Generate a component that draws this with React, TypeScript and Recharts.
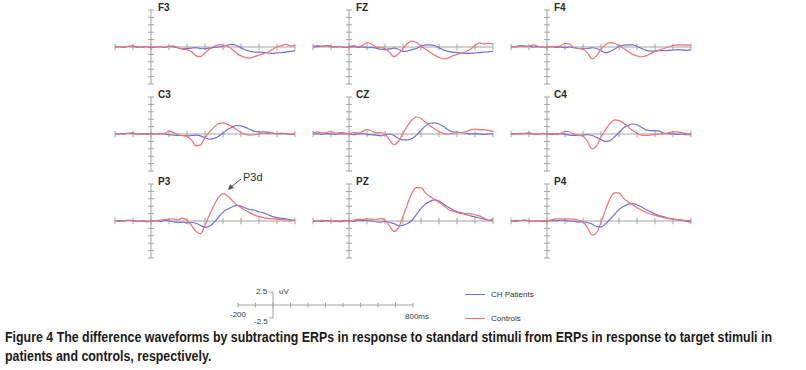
import { LineChart, Line, XAxis, YAxis, ReferenceLine } from "recharts"

// sample times (ms), 25 ms apart
const TIMES = [
  -200, -175, -150, -125, -100, -75, -50, -25, 0, 25, 50, 75, 100, 125, 150, 175, 200, 225, 250, 275, 300,
  325, 350, 375, 400, 425, 450, 475, 500, 525, 550, 575, 600, 625, 650, 675, 700, 725, 750, 775, 800,
]

const X_TICKS = [-200, -100, 0, 100, 200, 300, 400, 500, 600, 700, 800]
const Y_TICKS = [-5, -4, -3, -2, -1, 1, 2, 3, 4, 5]

// amplitudes in uV
const F3_PATIENTS = [0, 0.05, -0.05, 0.1, 0.15, 0, -0.05, 0.05, -0.1, 0, 0.05, -0.05, 0.1, 0, -0.1, -0.25, -0.2, -0.15, -0.1, -0.2, -0.25, -0.15, -0.05, 0, 0.1, 0.25, 0.35, 0.2, -0.1, -0.4, -0.6, -0.7, -0.7, -0.75, -0.8, -0.85, -0.8, -0.75, -0.7, -0.6, -0.5]
const F3_CONTROLS = [-0.05, 0.05, 0, 0.1, 0.05, -0.05, 0, 0.1, 0, 0.05, 0.05, -0.05, 0.1, 0.15, -0.1, -0.3, -0.35, -0.6, -1.2, -1.3, -0.8, -0.3, 0.1, 0.3, 0.3, 0.1, -0.3, -0.8, -1.2, -1.4, -1.5, -1.3, -1.1, -0.9, -0.7, -0.3, 0, 0.2, 0.35, 0.15, 0.2]

const FZ_PATIENTS = [0, 0.05, 0.1, 0.2, 0.1, 0, 0.05, -0.05, 0, 0.05, -0.05, 0, -0.1, -0.05, -0.15, -0.3, -0.35, -0.25, -0.15, -0.3, -0.6, -0.55, -0.35, -0.2, 0.1, 0.3, 0.3, 0.2, -0.1, -0.4, -0.6, -0.7, -0.75, -0.8, -0.85, -0.85, -0.8, -0.75, -0.7, -0.65, -0.6]
const FZ_CONTROLS = [0.1, 0.2, 0.1, 0.15, 0, 0.05, 0.1, -0.05, 0.1, 0.2, 0.05, 0.2, 0.6, 0.4, 0, -0.1, -0.2, -0.7, -1.3, -0.9, -0.2, 0.5, 0.8, 0.6, 0.1, -0.3, -0.7, -1.1, -1.4, -1.6, -1.5, -1.2, -1.0, -0.8, -0.6, -0.3, 0.2, 0.55, 0.4, 0.5, 0.4]

const F4_PATIENTS = [0, 0.05, 0.2, 0.15, 0.1, 0, 0.05, 0, 0, 0.05, -0.05, 0, -0.1, 0, -0.1, -0.2, -0.25, -0.2, -0.1, -0.2, -0.5, -0.8, -0.6, -0.3, 0.1, 0.25, 0.3, 0.3, 0.1, -0.2, -0.45, -0.55, -0.55, -0.5, -0.5, -0.45, -0.4, -0.35, -0.4, -0.45, -0.4]
const F4_CONTROLS = [0, 0, 0.1, 0.05, 0.1, 0.3, 0.1, 0, -0.1, 0.1, 0.05, 0.15, 0.5, 0.4, -0.1, -0.2, -0.3, -0.8, -1.6, -1.2, -0.3, 0.3, 0.6, 0.5, 0.2, -0.2, -0.6, -1.0, -1.2, -1.35, -1.2, -0.9, -0.6, -0.4, -0.2, 0, 0.2, 0.3, 0.3, 0.25, 0.3]

const C3_PATIENTS = [0, 0.05, 0, 0.1, 0.05, 0, 0.05, -0.05, 0, -0.05, 0.05, 0, -0.1, -0.15, -0.2, -0.2, -0.25, -0.2, -0.15, -0.25, -0.5, -0.7, -0.6, -0.3, 0.1, 0.6, 0.9, 1.15, 1.1, 0.9, 0.6, 0.35, 0.3, 0.3, 0.25, 0.1, 0.05, 0.1, 0, -0.05, 0]
const C3_CONTROLS = [0, 0, 0.05, 0.1, 0.15, -0.05, 0, 0.05, 0, -0.05, 0.05, 0.1, 0.4, 0.2, -0.1, -0.2, -0.35, -0.8, -1.6, -1.5, -0.5, 0.3, 0.9, 1.4, 1.5, 1.3, 1.0, 0.6, 0.2, -0.05, -0.15, -0.1, 0, 0.1, 0.05, 0.15, 0.05, 0, 0.1, -0.05, 0]

const CZ_PATIENTS = [0, 0.05, -0.05, 0.05, 0, -0.05, 0.05, 0, 0.05, -0.1, 0, 0.05, -0.05, -0.1, -0.15, -0.25, -0.1, 0, -0.2, -0.6, -0.8, -0.8, -0.6, -0.15, 0.5, 1.1, 1.45, 1.5, 1.35, 1.0, 0.6, 0.3, 0.25, 0.2, 0.1, 0, 0.05, 0, -0.05, 0, 0]
const CZ_CONTROLS = [0.2, 0.3, 0.15, 0.2, 0.35, 0.1, 0.2, 0.15, 0.05, 0.2, 0.15, 0.35, 0.6, 0.4, 0.15, 0.2, 0, -0.8, -1.45, -1.0, 0.1, 1.1, 1.9, 2.3, 2.1, 1.6, 1.1, 0.7, 0.3, 0.1, -0.05, 0.1, 0.2, 0.2, 0.3, 0.55, 0.65, 0.6, 0.6, 0.45, 0.35]

const C4_PATIENTS = [0, 0.05, 0, 0.1, 0.15, 0, -0.05, 0.05, 0, -0.05, 0, 0.05, -0.05, -0.15, -0.2, -0.2, -0.15, -0.1, -0.2, -0.45, -0.75, -1.0, -0.9, -0.4, 0.2, 0.8, 1.15, 1.35, 1.25, 0.9, 0.55, 0.45, 0.45, 0.4, 0.1, 0.05, 0, -0.05, 0, -0.1, -0.1]
const C4_CONTROLS = [-0.05, 0, 0.1, 0.05, 0, 0.05, -0.05, 0.1, 0, 0.05, -0.05, 0.1, 0.35, 0.3, -0.05, -0.15, -0.3, -1.0, -2.0, -1.6, -0.4, 0.6, 1.4, 1.9, 1.8, 1.5, 1.0, 0.5, 0.1, -0.15, -0.2, -0.15, -0.05, 0, 0.05, 0.15, 0.3, 0.3, 0.2, 0.05, 0]

const P3_PATIENTS = [0, 0.05, 0, 0.1, 0.05, -0.05, 0, -0.1, 0, 0.05, -0.05, 0.1, 0, -0.1, -0.2, -0.15, -0.25, -0.2, -0.3, -0.6, -0.85, -0.7, -0.2, 0.5, 1.2, 1.6, 1.9, 2.1, 2.0, 1.75, 1.55, 1.45, 1.25, 1.1, 0.85, 0.6, 0.45, 0.35, 0.3, 0.15, 0.1]
const P3_CONTROLS = [0, -0.05, 0.05, 0.1, 0, -0.05, 0.05, 0, -0.05, 0.05, 0.1, 0.2, 0.25, 0.3, 0.15, 0.4, 0.1, -0.6, -1.4, -1.7, -0.6, 0.8, 2.1, 3.2, 3.7, 3.4, 2.8, 2.2, 1.8, 1.45, 1.1, 0.8, 0.6, 0.45, 0.35, 0.3, 0.25, 0.2, 0.15, 0.05, 0.1]

const PZ_PATIENTS = [-0.05, 0, -0.05, 0.05, 0, -0.05, -0.1, 0, 0.05, -0.05, 0.1, 0.05, 0.1, 0, -0.1, -0.15, -0.05, -0.2, -0.35, -0.65, -0.6, -0.35, 0.1, 0.9, 1.7, 2.3, 2.65, 2.85, 2.7, 2.3, 1.9, 1.55, 1.25, 1.1, 0.85, 0.7, 0.55, 0.4, 0.25, 0.1, 0]
const PZ_CONTROLS = [0.05, 0, 0.1, 0, -0.05, 0.05, 0, 0.1, 0, 0.1, 0.25, 0.2, 0.3, 0.25, 0.2, 0.35, 0.1, -0.7, -1.4, -0.9, 0.6, 2.3, 3.8, 4.5, 4.5, 3.8, 3.3, 2.9, 2.5, 2.1, 1.6, 1.35, 1.15, 1.0, 1.0, 1.0, 0.85, 0.7, 0.4, 0.1, 0.3]

const P4_PATIENTS = [0.05, -0.05, 0.05, 0.1, 0, -0.05, 0.05, -0.05, 0, 0.05, 0, 0.1, 0.05, 0, -0.05, -0.15, -0.1, -0.2, -0.4, -0.75, -0.8, -0.4, 0.2, 0.9, 1.55, 1.95, 2.25, 2.35, 2.2, 1.9, 1.55, 1.25, 0.95, 0.7, 0.55, 0.35, 0.25, 0.15, 0.1, -0.05, -0.15]
const P4_CONTROLS = [0, 0.1, 0.05, 0.15, 0, -0.05, 0.05, 0, 0.05, 0.15, 0.3, 0.3, 0.25, 0.3, 0.25, 0.1, -0.1, -0.9, -1.9, -1.6, -0.2, 1.5, 3.0, 3.8, 3.8, 3.1, 2.6, 2.2, 1.8, 1.45, 1.15, 0.95, 0.75, 0.6, 0.45, 0.35, 0.25, 0.2, 0.15, 0.05, 0.05]

const ELECTRODES = ["F3", "FZ", "F4", "C3", "CZ", "C4", "P3", "PZ", "P4"]
const PATIENTS = [F3_PATIENTS, FZ_PATIENTS, F4_PATIENTS, C3_PATIENTS, CZ_PATIENTS, C4_PATIENTS, P3_PATIENTS, PZ_PATIENTS, P4_PATIENTS]
const CONTROLS = [F3_CONTROLS, FZ_CONTROLS, F4_CONTROLS, C3_CONTROLS, CZ_CONTROLS, C4_CONTROLS, P3_CONTROLS, PZ_CONTROLS, P4_CONTROLS]

// calibration bar: -200..800 ms, +/-2.5 uV
const SCALE_TICKS = [-200, -100, 0, 100, 200, 300, 400, 500, 600, 700, 800]
const SCALE_BASE = [0, 0, 0, 0, 0, 0, 0, 0, 0, 0, 0]

const BLUE = "#7171d2"
const RED = "#f37171"
const AXIS = "#a3a3a3"
const FONT = "'Liberation Sans', Arial, sans-serif"

// plot area left edges / zero-line rows, page px
const COL_LEFT = [115, 313, 511]
const ROW_ZERO = [47, 134, 221]
const PW = 180
const PH = 74
const M = { top: 13, right: 20, bottom: 13, left: 20 }

function Panel({ name, patients, controls, left, top }: { name: string; patients: number[]; controls: number[]; left: number; top: number }) {
  const data = TIMES.map((t, i) => ({ t, patients: patients[i], controls: controls[i] }))
  return (
    <div style={{ position: "absolute", left, top }}>
      <LineChart width={PW + M.left + M.right} height={PH + M.top + M.bottom} data={data} margin={M}>
        <XAxis dataKey="t" type="number" domain={[-200, 800]} hide />
        <YAxis type="number" domain={[-5, 5]} hide />
        <ReferenceLine y={0} stroke={AXIS} />
        <ReferenceLine x={0} stroke={AXIS} />
        {X_TICKS.map((t) => (
          <ReferenceLine key={"x" + t} segment={[{ x: t, y: -0.45 }, { x: t, y: 0.45 }]} stroke={AXIS} />
        ))}
        {Y_TICKS.map((v) => (
          <ReferenceLine key={"y" + v} segment={[{ x: -17, y: v }, { x: 17, y: v }]} stroke={AXIS} />
        ))}
        <Line dataKey="patients" type="monotone" stroke={BLUE} strokeWidth={1.2} dot={false} isAnimationActive={false} />
        <Line dataKey="controls" type="monotone" stroke={RED} strokeWidth={1.2} dot={false} isAnimationActive={false} />
      </LineChart>
      <div
        style={{
          position: "absolute",
          left: M.left + 43,
          top: M.top - 8,
          fontFamily: FONT,
          fontSize: 10,
          fontWeight: 600,
          color: "#2a2a2a",
          lineHeight: "11px",
        }}
      >
        {name}
      </div>
    </div>
  )
}

function ScaleBar() {
  const data = SCALE_TICKS.map((t, i) => ({ t, base: SCALE_BASE[i] }))
  const txt = { position: "absolute" as const, fontFamily: FONT, fontSize: 8, color: "#3a3a3a", lineHeight: "9px" }
  return (
    <div style={{ position: "absolute", left: 218, top: 282 }}>
      <LineChart width={215} height={46} data={data} margin={{ top: 10, right: 20, bottom: 10, left: 20 }}>
        <XAxis dataKey="t" type="number" domain={[-200, 800]} hide />
        <YAxis type="number" domain={[-2.5, 2.5]} hide />
        <ReferenceLine segment={[{ x: 0, y: -2.5 }, { x: 0, y: 2.5 }]} stroke={AXIS} />
        <ReferenceLine segment={[{ x: -22, y: 2.5 }, { x: 0, y: 2.5 }]} stroke={AXIS} />
        <ReferenceLine segment={[{ x: -22, y: -2.5 }, { x: 0, y: -2.5 }]} stroke={AXIS} />
        {SCALE_TICKS.map((t) => (
          <ReferenceLine key={t} segment={[{ x: t, y: -0.45 }, { x: t, y: 0.45 }]} stroke={AXIS} />
        ))}
        <Line dataKey="base" type="linear" stroke={AXIS} strokeWidth={1} dot={false} isAnimationActive={false} />
      </LineChart>
      <div style={{ ...txt, left: 38, top: 5 }}>2.5</div>
      <div style={{ ...txt, left: 61, top: 5 }}>uV</div>
      <div style={{ ...txt, left: 12, top: 28 }}>-200</div>
      <div style={{ ...txt, left: 187, top: 30 }}>800ms</div>
      <div style={{ ...txt, left: 36, top: 35 }}>-2.5</div>
    </div>
  )
}

function SeriesLegend() {
  const row = (color: string, label: string, top: number) => (
    <div style={{ position: "absolute", left: 465, top, display: "flex", alignItems: "center" }}>
      <div style={{ width: 20, height: 0, borderTop: `1.5px solid ${color}` }} />
      <span style={{ marginLeft: 6, fontFamily: FONT, fontSize: 8, color: "#333" }}>{label}</span>
    </div>
  )
  return (
    <>
      {row(BLUE, "CH Patients", 290)}
      {row(RED, "Controls", 314)}
    </>
  )
}

export default function App() {
  return (
    <div style={{ position: "absolute", left: 0, top: 0, width: 806, height: 370, background: "#fff", overflow: "hidden" }}>
      {ELECTRODES.map((name, i) => (
        <Panel
          key={name}
          name={name}
          patients={PATIENTS[i]}
          controls={CONTROLS[i]}
          left={COL_LEFT[i % 3] - M.left}
          top={ROW_ZERO[Math.floor(i / 3)] - PH / 2 - M.top}
        />
      ))}
      <div style={{ position: "absolute", left: 243, top: 171, fontFamily: FONT, fontSize: 11, color: "#333" }}>P3d</div>
      <svg style={{ position: "absolute", left: 0, top: 0 }} width={806} height={370} pointerEvents="none">
        <line x1={241} y1={179} x2={231} y2={187} stroke="#555" strokeWidth={1} />
        <polygon points="228,190 234,188 230,184" fill="#555" />
      </svg>
      <ScaleBar />
      <SeriesLegend />
      <div
        style={{
          position: "absolute",
          left: 5,
          top: 328,
          fontFamily: FONT,
          fontSize: 14,
          fontWeight: 700,
          lineHeight: "19px",
          color: "#1a1a1a",
          whiteSpace: "nowrap",
          transform: "scaleX(0.885)",
          transformOrigin: "0 0",
        }}
      >
        Figure 4 The difference waveforms by subtracting ERPs in response to standard stimuli from ERPs in response to target stimuli in
        <br />
        patients and controls, respectively.
      </div>
    </div>
  )
}
